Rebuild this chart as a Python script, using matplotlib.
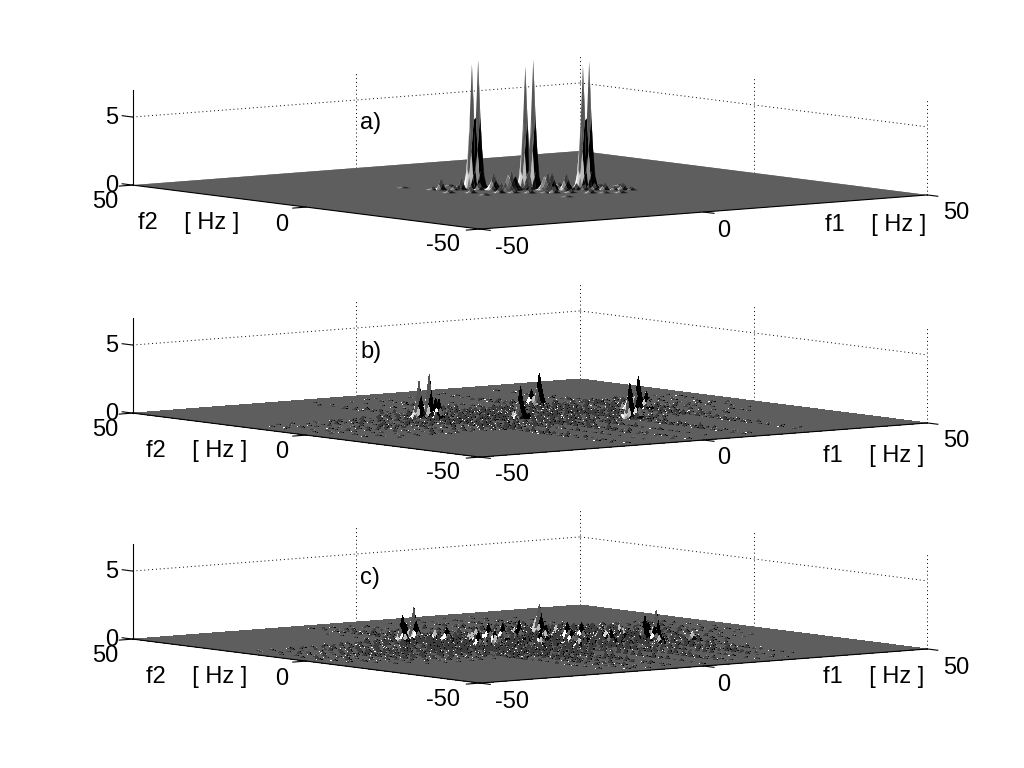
import numpy as np
import matplotlib
matplotlib.use('Agg')
import matplotlib.pyplot as plt

plt.rcParams['font.family'] = ['Liberation Sans', 'DejaVu Sans']

# spectrum grid, only the cells listed below are non zero
n_bins = 201
f_axis = np.linspace(-50, 50, n_bins)
f_step = f_axis[1] - f_axis[0]
# noise strings: one digit per Hz from -48 Hz, digit = height in tenths
ridge_f = np.arange(-48, 49, 1)
# relative shape of one peak on the grid, small and large ones
small_spike = [[0.15, 0.5, 0.15], [0.5, 1.0, 0.5], [0.15, 0.5, 0.15]]
large_spike = [[0.03, 0.10, 0.15, 0.10, 0.03],
               [0.10, 0.30, 0.55, 0.30, 0.10],
               [0.15, 0.55, 1.00, 0.55, 0.15],
               [0.10, 0.30, 0.55, 0.30, 0.10],
               [0.03, 0.10, 0.15, 0.10, 0.03]]
floor_grey = 0.37

# a) three tall double peaks plus low noise round them
a_f1 = [-6.0, -5.2, 0.4, 1.6, 9.5, 10.3,
        -14.5, -11.7, -7.5, -5.4, -3.3, -1.2, 0.2, 2.3, 5.1, 7.2, 9.3,
        -13.3, -12.3, -10.5, -9.5, -7.0, -5.6, -5.0, -4.2, -3.2, -2.5, -1.8, -0.7, 1.8, 2.5, 3.2, 4.9, 6.3, 7.7, 9.1, 10.6, 11.9, 12.9, 14.0,
        -6.9, -3.4, -0.6, 2.9, 5.0, 8.5, 11.3, 14.1, 16.9, -15.5, -11.9, -2.5]
a_f2 = [9.2, 8.5, 1.9, 1.0, -2.8, -3.5,
        4.3, 2.2, -1.1, -2.7, -4.3, -5.9, -7.0, -8.6, -10.8, -12.4, -14.0,
        10.3, 9.5, 8.1, 7.3, 5.4, 4.3, 3.9, 3.2, 2.5, 1.9, 1.4, 0.5, -1.4, -2.0, -2.5, -3.8, -4.9, -6.0, -7.0, -8.2, -9.2, -10.0, -10.8,
        14.2, 11.5, 9.4, 6.7, 5.1, 2.4, 0.2, -2.0, -4.1, 16.4, -2.3, -14.1]
a_z = [9.1, 9.4, 9.0, 9.5, 9.0, 9.3,
       0.3, 0.4, 0.5, 0.3, 0.4, 0.2, 0.5, 0.3, 0.4, 0.2, 0.3,
       0.3, 0.9, 0.4, 0.9, 0.5, 0.4, 1.3, 0.6, 1.1, 1.5, 1.0, 0.5, 1.0, 1.4, 1.3, 1.3, 0.5, 0.4, 0.5, 0.6, 0.3, 0.6, 0.3,
       0.2, 0.3, 0.4, 0.3, 0.2, 0.3, 0.4, 0.2, 0.2, 0.15, 0.2, 0.15]

# b) lower peaks, noise along rows and columns through them
b_f1 = [-15.4, -14.1, -10.8, -13.0, -2.4, 14.5, 13.6, 12.9, 13.9, 25.1, 24.2, 26.2]
b_f2 = [11.9, 10.9, 12.8, 9.5, -0.4, 16.0, 16.9, -12.2, -13.2, 1.0, 2.0, 0.2]
b_z = [2.7, 3.2, 1.3, 1.4, 2.4, 2.4, 1.2, 2.6, 1.6, 2.4, 1.6, 1.3]
b_row_f2 = [17, 15, 12, 10, 6, 3, 1, -1, -5, -9, -12, -14]
b_rows = [
    "00000100100001000101001020010210102013010201030102010301020103020103010201020010201001000100100",
    "00100010001010010200102010301020130102040103020103010402010301020401030201020103010200100100010",
    "00010010100100201010201030204010302050103020401030205010302040103020103040102030102010100100100",
    "01000100100201001020103010204030105020103040201050302010403020104030201030102010201001001000100",
    "00001000101001020010301020401030205010304020103040201030502010403010203010201020010100100010000",
    "00100101001020100302010403020104020503010204030105020304010203050102030401020103010200101001000",
    "01001000201001030102040103050201040302050103040205010302040501030204010302010301020010100100010",
    "00010100100201030102010403010502030104020503010402030501020403010502030102010201001010010001000",
    "00000100010100201001030102040103020401030502010304020105030201040301020301020100201001000100000",
    "00001001000100200103010020301040102030104020103020401030201040103020103010200102001000100010000",
    "00000010001001000201001020103010020401030201030401020301040201030102010200100201001000100000000",
    "00000000100010010001020010010201030100201030102001030102010020100102001000100100010000100000000",
]
b_col_f1 = [-16, -14, -8, -3, -1, 5, 12, 14, 25, 27]
b_cols = [
    "00001000100100100201001020103010204010302040103050201040302010301020102001001010010010001000000",
    "00100010010010200103010204010301040205010304020103040201050301020401030102010200100100010000100",
    "00000100100010010201001030102010301040201030102040103020103010201020010200100100100001000100000",
    "00010000100101002010301002040103020501030204010305020403010204030102030102010010100100010001000",
    "01000100101002010030102040103050204010305020403010502040301050203010403010201020100100010001000",
    "00001000010010100201001030102030401020103040201030201040102030102010020100100100010010000100000",
    "00100100010100201003010204010302050103040205030104020304010502030401030102010020100100100010000",
    "00010001001002010301020301040205030104020503010403020501030402010302010301020010100010010001000",
    "00001000100010100102001030102010301040103020401020301040102030102010020100100100010001000010000",
    "00000100001000100200100201010201030102010301020103010201020100201001010010001000010000100000000",
]

# c) weakest peaks, many medium spikes and denser noise
c_f1 = [-11.8, -14.3, -12.6, -13.2, 14.6, 13.8, 21.9, 19.4, 21.1, 20.4, -1.5, 0.6, 2.9, 9.6, 11.7, 15.2, -11.7, -10.0, -8.3,
        -6.0, -4.2, 5.2, 7.0, 13.4, 17.8, 24.6, 27.0, -17.0, -6.8, 0.0, 4.8, 9.0, -3.0, 18.0, 23.0, -9.0, -2.0, 4.0, 12.0, 20.0]
c_f2 = [18.2, 17.8, 16.6, 19.2, 15.9, 16.7, -7.8, -8.2, -6.8, -9.4, 10.2, 8.6, 6.8, 1.7, 0.0, -2.6, -0.1, 14.5, 13.2,
        9.0, 5.0, 2.0, -3.0, -6.0, 3.0, -2.0, -12.0, 14.0, 1.0, -3.0, 11.0, 7.0, -7.0, -14.0, 4.0, 6.0, 13.0, -9.0, 8.0, -1.0]
c_z = [2.4, 1.9, 1.3, 1.2, 2.06, 0.9, 2.2, 1.8, 1.3, 1.1, 1.2, 1.2, 1.4, 1.3, 1.3, 0.7, 1.2, 0.8, 1.0,
       0.7, 0.9, 0.8, 1.0, 0.9, 0.7, 0.8, 0.6, 0.7, 0.8, 1.0, 0.7, 0.9, 0.8, 0.6, 0.7, 0.8, 0.7, 0.6, 0.8, 0.7]
c_row_f2 = [19, 17, 14, 11, 8, 5, 2, 0, -3, -6, -8, -11, -14, -18]
c_rows = [
    "00100100010010100201002010301020402010302040103020501030204010302030102010200102001000100100000",
    "01001000201001020103010204010302050103040206010304020503010204060103020401030201020100101001000",
    "00010100100201030102040103050204010603020501040306010205030401060205030104020301020100201001000",
    "01000201001030102040205030106020403050106030204050301060204030501020403010302010200100201000100",
    "00100100201030204010503020604010305070204060301050402060305010402050301040201030100201001000100",
    "01001020103010402050301060204070305010602040503070102050406010304020501030201030102001010010010",
    "00201001030204010503060102070405010603020705010406030207050104030601020405010302010300102001000",
    "01000102010304020501060302070104060305070204080301060205040701030605010403020103010200100100100",
    "00100201001030204060103050207040106030502070401060305020604010305020401030201020010100201000100",
    "00010010200103020405010602040703010502060403010507020406010305020403010302010200100100100100000",
    "01000100102010302050104030601020504010603020504010602030501040203050102030102001020010000100000",
    "00000100100102001030204010302050104020304010502030401020305010203040102010200100101001000100000",
    "00000001001000200103010201040102030102040103010204010203010201030102001020010010010001000000000",
    "00000000000100010010010200100102010010201001020100201001020010100100100010001000000000000000000",
]
c_col_f1 = [-18, -14, -12, -10, -6, -4, 2, 8, 10, 15, 19, 21, 26]
c_cols = [
    "00000100010010100200102010301020104010203010401020301020104020100201010010010001000100000000000",
    "00100010100200103010204010503020604030205010604020503060104020503010402010301002010010100100010",
    "00010010010201001030204010306020405010603040702050104060302050401060203040102030100201001000100",
    "01000100201030102050104030601050207030406010502070304010605020304050102040103010200100201000100",
    "00100010100201030402010503060102040705030104060207030501060402030501040201030200100101001000100",
    "00010100201001030204050103060205070104030602050704010306050204060103040201030102010010010010000",
    "01001002010302040105030607020401080305060207040108030506020401070305020401030201030010201001000",
    "00100100102030401050203060104070205030608010403050702060103040502060103040201020100201000100100",
    "00010010201001030205010403060102050703040106020503040701050203060401020301020100201001000100010",
    "00100100010201030405010206030504010703050206040801030506020703010405020301040201002010010100100",
    "00010001002010304020501030602040105030207040106030502040601030502040103020100201001001000100000",
    "01000100102010203050104060203050107020403060501020704030501060203040201030100201010010001000100",
    "00000010010010020103010204010301050102040103020401030201040102010302010020010010010000100000000",
]

# tick label texts and their pixel centres, one entry per panel
panel_dy = [0, 228, 454]
panel_names = ['a)', 'b)', 'c)']
z_tick_y = [[116, 184], [344, 412], [570, 638]]
f2_50_y = [200, 428, 654]
f2_0_y = [223, 450, 677]
f2_m50_xy = [(443, 243), (443, 471), (443, 698)]
f1_m50_y = [246, 473, 700]
f1_0_y = [229, 456, 683]
f1_50_y = [211, 439, 666]
f2_label_xy = [(138, 221), (146, 449), (146, 675)]
f1_label_xy = [(825, 223), (823, 454), (823, 675)]
name_y = [121, 350, 576]

fig = plt.figure(figsize=(10.24, 7.68), dpi=100)
FS = 17


def label(x, y, s, ha='center'):
    fig.text(x / 1024, 1 - (y + 2) / 768, s, ha=ha, va='center', fontsize=FS, color='black')


def to_bin(f):
    return int(round((f + 50) / f_step))


def make_spectrum(f1, f2, z, row_f2, rows, col_f1, cols):
    Z = np.zeros((n_bins, n_bins))
    for y, vals in zip(row_f2, rows):
        for x, v in zip(ridge_f, vals):
            Z[to_bin(y), to_bin(x)] = max(Z[to_bin(y), to_bin(x)], int(v) / 10)
    for x, vals in zip(col_f1, cols):
        for y, v in zip(ridge_f, vals):
            Z[to_bin(y), to_bin(x)] = max(Z[to_bin(y), to_bin(x)], int(v) / 10)
    for x, y, h in zip(f1, f2, z):
        i, j = to_bin(y), to_bin(x)
        shape = np.array(large_spike if h >= 1 else small_spike)
        r = shape.shape[0] // 2
        cell = Z[i - r:i + r + 1, j - r:j + r + 1]
        Z[i - r:i + r + 1, j - r:j + r + 1] = np.maximum(cell, h * shape)
    return Z


def face_colours(Z):
    d1 = (Z[:-1, 1:] + Z[1:, 1:] - Z[:-1, :-1] - Z[1:, :-1]) / (2 * f_step)
    d2 = (Z[1:, :-1] + Z[1:, 1:] - Z[:-1, :-1] - Z[:-1, 1:]) / (2 * f_step)
    gain = 10.0
    norm = np.sqrt(1 + (gain * d1) ** 2 + (gain * d2) ** 2)
    nx, ny = -gain * d1 / norm, -gain * d2 / norm
    s = np.clip((nx * -0.527 + ny * 0.789) * 2.0, -1, 1)
    grey = floor_grey + s * np.where(s > 0, 1 - floor_grey, floor_grey)
    # tall peaks change grey with height
    m = (Z[:-1, :-1] + Z[:-1, 1:] + Z[1:, :-1] + Z[1:, 1:]) / 4 / Z.max()
    tall = np.where(m > 0.5, 0.55, np.where(m > 0.2, 0.2, 0.95))
    grey = np.where(m > 0.1, np.clip(tall + 0.6 * s, 0, 1), grey)
    out = np.ones(grey.shape + (4,))
    out[..., 0] = out[..., 1] = out[..., 2] = grey
    return out


def draw_panel(Z, k):
    dy = panel_dy[k]
    # zoom below 1 with a larger axes, otherwise the far corners get clipped
    cx, cy = 530, 142.4 + dy
    size = 979
    left = cx - size * 0.5135
    bottom = (768 - cy) - size * 0.5135
    ax = fig.add_axes([left / 1024, bottom / 768, size / 1024, size / 768], projection='3d',
                      proj_type='ortho', computed_zorder=False)
    ax.patch.set_alpha(0)
    ax.set_axis_off()
    ax.set_box_aspect((1, 1, 0.169), zoom=0.8)
    ax.view_init(elev=5.64, azim=-127.8)
    ax.set_xlim(-50, 50, view_margin=0)
    ax.set_ylim(-50, 50, view_margin=0)
    ax.set_zlim(0, 7, view_margin=0)

    dots = dict(color='black', lw=0.7, ls=(0, (1, 3)), zorder=1)
    for t in [0, 50]:
        ax.plot([t, t], [50, 50], [0, 7], **dots)
    for t in [0, -50]:
        ax.plot([50, 50], [t, t], [0, 7], **dots)
    ax.plot([-50, 50], [50, 50], [5, 5], **dots)
    ax.plot([50, 50], [50, -50], [5, 5], **dots)

    # plain floor below the fine grid, hides the seams between its cells
    ax.plot_surface(np.array([[-50, 50], [-50, 50]]), np.array([[-50, -50], [50, 50]]), np.zeros((2, 2)),
                    color=str(floor_grey), shade=False, linewidth=0, zorder=1.5)
    X, Y = np.meshgrid(f_axis, f_axis)
    # no antialiasing in b and c, it would wash the fine noise into the floor grey
    ax.plot_surface(X, Y, Z, rstride=1, cstride=1, facecolors=face_colours(Z), shade=False,
                    linewidth=0, antialiased=(k == 0), zorder=2)

    solid = dict(color='black', lw=0.8, zorder=3)
    ax.plot([-50, 50], [-50, -50], [0, 0], **solid)
    ax.plot([-50, -50], [-50, 50], [0, 0], **solid)
    ax.plot([-50, -50], [50, 50], [0, 7], **solid)
    for t in [-50, 0, 50]:
        ax.plot([t, t], [-50, -53], [0, 0], **solid)
        ax.plot([-50, -53], [t, t], [0, 0], **solid)
    for t in [0, 5]:
        ax.plot([-50, -50], [50, 53], [t, t], **solid)

    label(118, z_tick_y[k][0], '5', ha='right')
    label(118, z_tick_y[k][1], '0', ha='right')
    label(118, f2_50_y[k], '50', ha='right')
    label(282, f2_0_y[k], '0')
    label(f2_m50_xy[k][0], f2_m50_xy[k][1], '-50')
    label(512, f1_m50_y[k], '-50')
    label(724, f1_0_y[k], '0')
    label(956, f1_50_y[k], '50')
    label(f2_label_xy[k][0], f2_label_xy[k][1], 'f2    [ Hz ]', ha='left')
    label(f1_label_xy[k][0], f1_label_xy[k][1], 'f1    [ Hz ]', ha='left')
    label(360, name_y[k], panel_names[k], ha='left')


spectra = [
    make_spectrum(a_f1, a_f2, a_z, [], [], [], []),
    make_spectrum(b_f1, b_f2, b_z, b_row_f2, b_rows, b_col_f1, b_cols),
    make_spectrum(c_f1, c_f2, c_z, c_row_f2, c_rows, c_col_f1, c_cols),
]
for k, Z in enumerate(spectra):
    draw_panel(Z, k)

fig.savefig('out.png', dpi=100)
